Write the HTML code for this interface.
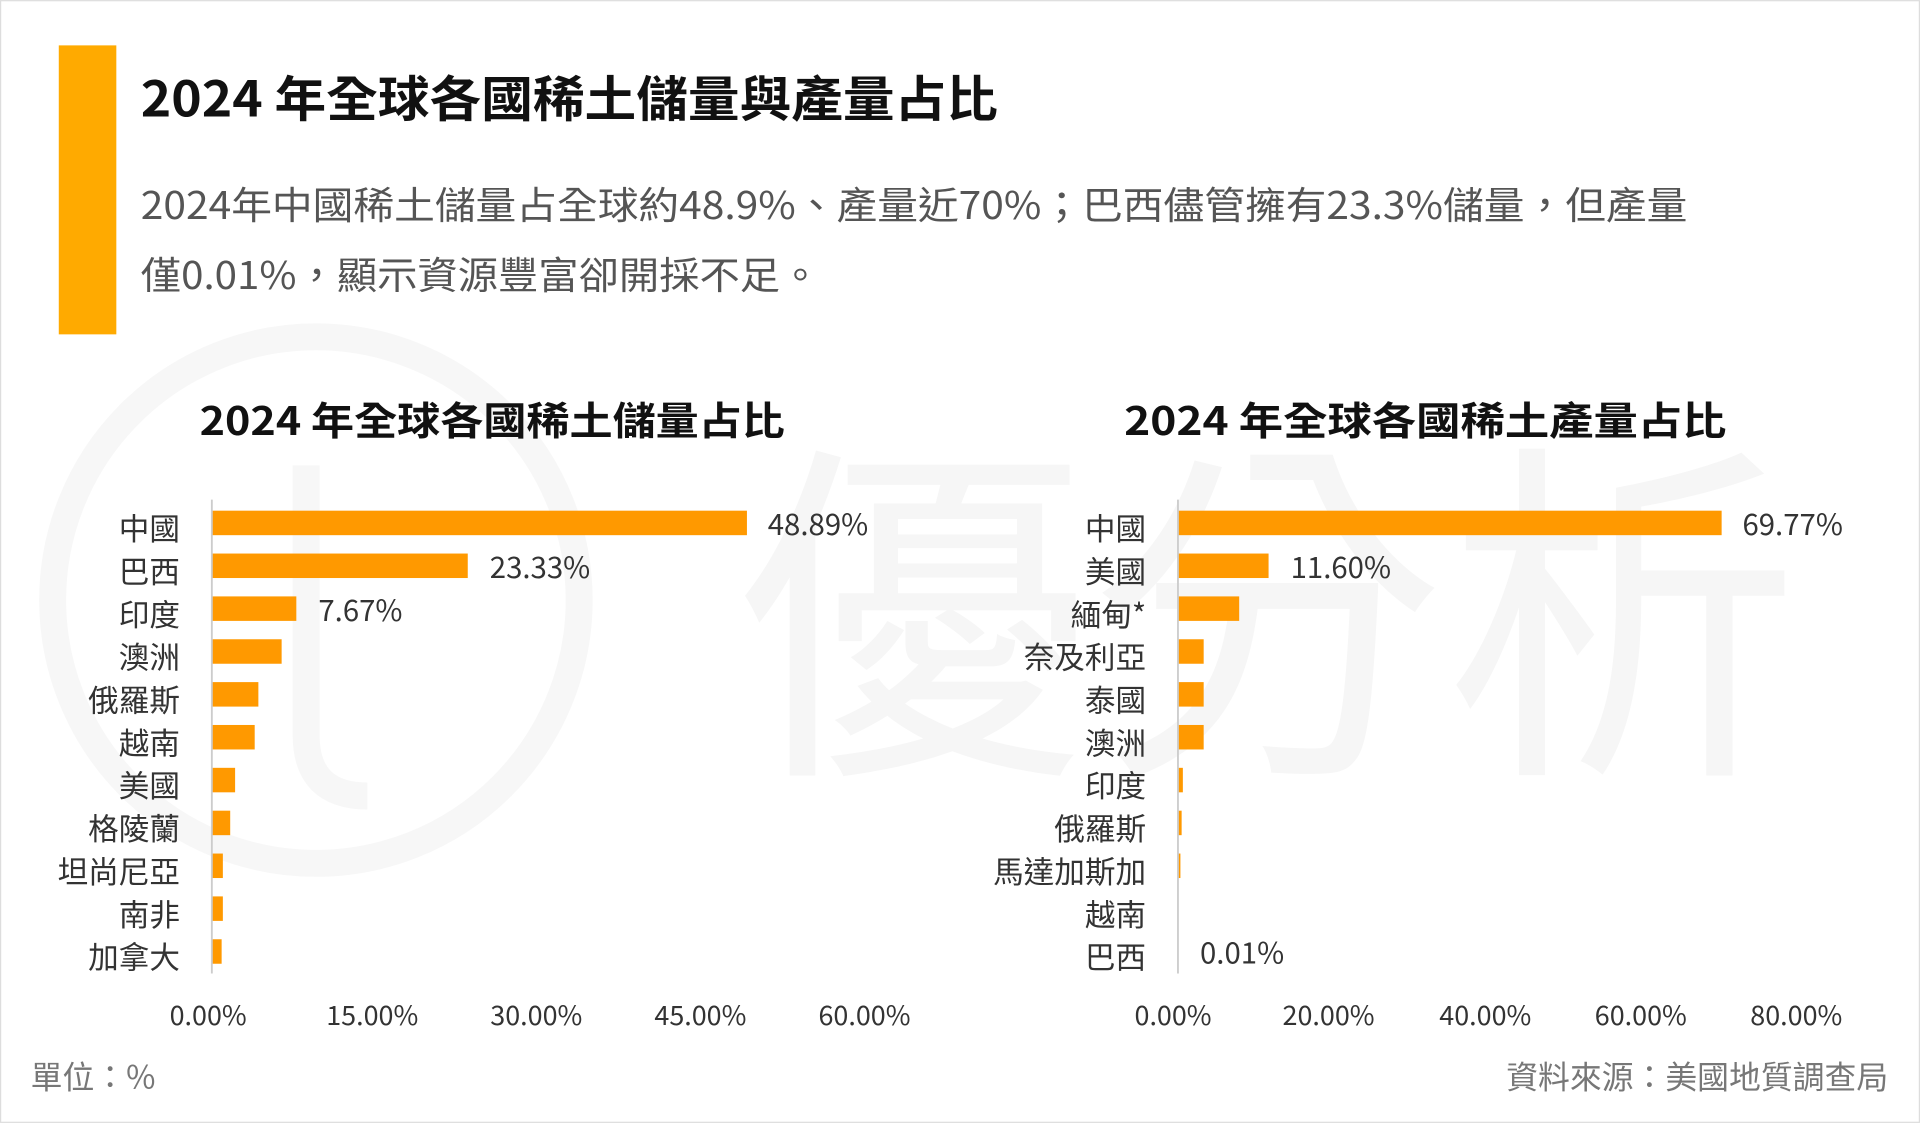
<!DOCTYPE html>
<html><head><meta charset="utf-8"><style>
html,body{margin:0;padding:0;background:#fff;}
svg{display:block;}
text{font-family:"Noto Sans CJK TC","Liberation Sans",sans-serif;}
</style></head><body>
<svg width="1920" height="1123" viewBox="0 0 1568 917" xmlns="http://www.w3.org/2000/svg">
<rect x="0.5" y="0.5" width="1567" height="916" fill="#fff" stroke="#ddd"/>
<!-- watermark -->
<circle cx="258" cy="490" r="215" fill="none" stroke="#f7f7f7" stroke-width="22"/>
<path d="M250 380 L250 600 Q250 650 300 650" fill="none" stroke="#f7f7f7" stroke-width="22"/>
<text x="600" y="610" font-size="290" fill="#f6f6f6">優分析</text>
<!-- header -->
<rect x="48" y="37" width="47" height="236" fill="#FFAA00"/>
<text x="115" y="95" font-size="40" font-weight="bold" fill="#111" textLength="700" lengthAdjust="spacingAndGlyphs">2024 年全球各國稀土儲量與產量占比</text>
<text x="115" y="179" font-size="31" fill="#555" textLength="1263" lengthAdjust="spacingAndGlyphs">2024年中國稀土儲量占全球約48.9%、產量近70%；巴西儘管擁有23.3%儲量，但產量</text>
<text x="115" y="236" font-size="31" fill="#555" textLength="555" lengthAdjust="spacingAndGlyphs">僅0.01%，顯示資源豐富卻開採不足。</text>
<!-- chart titles -->
<text x="163" y="355" font-size="32" font-weight="bold" fill="#111" textLength="478" lengthAdjust="spacingAndGlyphs">2024 年全球各國稀土儲量占比</text>
<text x="918" y="355" font-size="32" font-weight="bold" fill="#111" textLength="492" lengthAdjust="spacingAndGlyphs">2024 年全球各國稀土產量占比</text>
<g fill="#FF9900">
<rect x="173" y="417" width="437" height="20"/>
<rect x="173" y="452" width="209" height="20"/>
<rect x="173" y="487" width="69" height="20"/>
<rect x="173" y="522" width="57" height="20"/>
<rect x="173" y="557" width="38" height="20"/>
<rect x="173" y="592" width="35" height="20"/>
<rect x="173" y="627" width="19" height="20"/>
<rect x="173" y="662" width="15" height="20"/>
<rect x="173" y="697" width="9" height="20"/>
<rect x="173" y="732" width="9" height="20"/>
<rect x="173" y="767" width="8" height="20"/>
<rect x="962" y="417" width="444" height="20"/>
<rect x="962" y="452" width="74" height="20"/>
<rect x="962" y="487" width="50" height="20"/>
<rect x="962" y="522" width="21" height="20"/>
<rect x="962" y="557" width="21" height="20"/>
<rect x="962" y="592" width="21" height="20"/>
<rect x="962" y="627" width="4" height="20"/>
<rect x="962" y="662" width="3" height="20"/>
<rect x="962" y="697" width="2" height="20"/>
</g>
<line x1="173" y1="408" x2="173" y2="795" stroke="#ccc" stroke-width="1.5"/>
<line x1="962" y1="408" x2="962" y2="795" stroke="#ccc" stroke-width="1.5"/>
<g font-size="25" fill="#333" text-anchor="end">
<text x="147" y="441">中國</text><text x="147" y="476">巴西</text><text x="147" y="511">印度</text><text x="147" y="546">澳洲</text><text x="147" y="581">俄羅斯</text><text x="147" y="616">越南</text><text x="147" y="651">美國</text><text x="147" y="686">格陵蘭</text><text x="147" y="721">坦尚尼亞</text><text x="147" y="756">南非</text><text x="147" y="791">加拿大</text>
<text x="936" y="441">中國</text><text x="936" y="476">美國</text><text x="936" y="511">緬甸*</text><text x="936" y="546">奈及利亞</text><text x="936" y="581">泰國</text><text x="936" y="616">澳洲</text><text x="936" y="651">印度</text><text x="936" y="686">俄羅斯</text><text x="936" y="721">馬達加斯加</text><text x="936" y="756">越南</text><text x="936" y="791">巴西</text>
</g>
<g font-size="24" fill="#333">
<text x="627" y="437">48.89%</text><text x="400" y="472">23.33%</text><text x="260" y="507">7.67%</text>
<text x="1423" y="437">69.77%</text><text x="1054" y="472">11.60%</text><text x="980" y="787">0.01%</text>
</g>
<g font-size="22" fill="#333" text-anchor="middle">
<text x="170" y="837">0.00%</text><text x="304" y="837">15.00%</text><text x="438" y="837">30.00%</text><text x="572" y="837">45.00%</text><text x="706" y="837">60.00%</text>
<text x="958" y="837">0.00%</text><text x="1085" y="837">20.00%</text><text x="1213" y="837">40.00%</text><text x="1340" y="837">60.00%</text><text x="1467" y="837">80.00%</text>
</g>
<text x="25" y="889" font-size="26" fill="#777">單位：%</text>
<text x="1542" y="889" font-size="26" fill="#777" text-anchor="end">資料來源：美國地質調查局</text>
</svg>
</body></html>
